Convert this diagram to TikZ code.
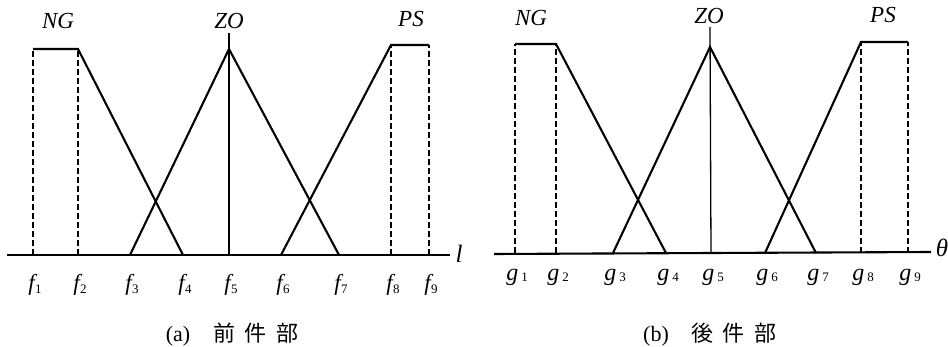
\documentclass[tikz,border=0pt]{standalone}
\usepackage{fontspec}
\setmainfont{Liberation Serif}
\newfontfamily\cjk{Noto Sans CJK JP}
\newcommand\flab[1]{{\itshape f}\kern0.3pt\raisebox{-3pt}{\fontsize{13}{13}\selectfont #1}}
\newcommand\glab[1]{{\itshape g}\kern3pt\raisebox{-1pt}{\fontsize{13}{13}\selectfont #1}}
\begin{document}
\begin{tikzpicture}[x=1pt,y=-1pt,
 mf/.style={line width=2.1pt, line join=miter},
 axisline/.style={line width=2.1pt},
 guide/.style={line width=1.4pt, dash pattern=on 6pt off 3pt},
 peakline/.style={line width=1.3pt},
 setlabel/.style={font=\fontsize{23}{23}\selectfont\itshape, inner sep=0},
 ticklabel/.style={font=\fontsize{23}{23}\selectfont, inner sep=0},
 gticklabel/.style={font=\fontsize{24}{24}\selectfont, inner sep=0},
 caption/.style={font=\fontsize{22}{22}\selectfont, inner sep=0}]
\useasboundingbox (0,0) rectangle (948,347);

% ---------- panel (a) ----------
\coordinate (aL) at (7,255);
\coordinate (aR) at (450,255);
\draw[axisline] (aL) -- (aR);
\node[setlabel, font=\fontsize{25}{25}\selectfont\itshape] (al) at (459,254) {l};
\foreach \n/\x in {1/33,2/78,3/130,4/183,5/229,6/281,7/339,8/391,9/429}{
  \coordinate (f\n) at (\x,255);
  \node[ticklabel] (fl\n) at (\x+2,285) {\flab{\n}};
}
% NG
\coordinate (aNGa) at (33,49);
\coordinate (aNGb) at (78,49);
\draw[guide] (f1) -- (aNGa);
\draw[guide] (f2) -- (aNGb);
\draw[mf] (aNGa) -- (aNGb) -- (f4);
% ZO
\coordinate (aZO) at (229,49);
\coordinate (aZOtop) at (229,33);
\draw[mf] (f3) -- (aZO) -- (f7);
\draw[peakline] (f5) -- (aZOtop);
% PS
\coordinate (aPSa) at (391,45);
\coordinate (aPSb) at (429,45);
\draw[guide] (f8) -- (aPSa);
\draw[guide] (f9) -- (aPSb);
\draw[mf] (f6) -- (aPSa) -- (aPSb);
\node[setlabel] (aNG) at (58,21) {NG};
\node[setlabel] (aZOl) at (229,21) {ZO};
\node[setlabel] (aPS) at (411,19) {PS};
\node[caption] (capa) at (232,335) {(a)\hspace{23pt}{\cjk 前\hspace{9pt}件\hspace{10pt}部}};

% ---------- panel (b) ----------
\coordinate (bL) at (494,254);
\coordinate (bR) at (931,252);
\draw[axisline] (bL) -- (bR);
\node[setlabel, font=\fontsize{25}{25}\selectfont\itshape] (bth) at (942,248) {θ};
\foreach \n/\x in {1/515,2/556,3/613,4/666,5/711,6/765,7/816,8/861,9/908}{
  \coordinate (g\n) at (\x,253);
  \node[gticklabel] (gl\n) at (\x+2,277) {\glab{\n}};
}
% NG
\coordinate (bNGa) at (515,44);
\coordinate (bNGb) at (556,44);
\draw[guide] (g1) -- (bNGa);
\draw[guide] (g2) -- (bNGb);
\draw[mf] (bNGa) -- (bNGb) -- (g4);
% ZO
\coordinate (bZO) at (710,47);
\coordinate (bZOtop) at (710,27);
\draw[mf] (g3) -- (bZO) -- (g7);
\draw[peakline] (g5) -- (bZOtop);
% PS
\coordinate (bPSa) at (861,42);
\coordinate (bPSb) at (908,42);
\draw[guide] (g8) -- (bPSa);
\draw[guide] (g9) -- (bPSb);
\draw[mf] (g6) -- (bPSa) -- (bPSb);
\node[setlabel] (bNG) at (531,18) {NG};
\node[setlabel] (bZOl) at (709,16) {ZO};
\node[setlabel] (bPS) at (883,15) {PS};
\node[caption] (capb) at (710,335) {(b)\hspace{23pt}{\cjk 後\hspace{9pt}件\hspace{10pt}部}};
\end{tikzpicture}
\end{document}
